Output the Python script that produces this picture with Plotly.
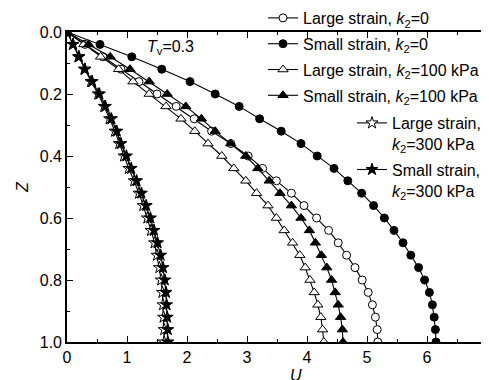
import plotly.graph_objects as go

z = [0.00, 0.04, 0.08, 0.12, 0.16, 0.20, 0.24, 0.28, 0.32, 0.36, 0.40, 0.44, 0.48,
     0.52, 0.56, 0.60, 0.64, 0.68, 0.72, 0.76, 0.80, 0.84, 0.88, 0.92, 0.96, 1.00]

u_large_k0 = [0.00, 0.30, 0.60, 0.90, 1.20, 1.50, 1.82, 2.12, 2.41, 2.73, 3.02, 3.26, 3.49,
              3.74, 3.95, 4.16, 4.36, 4.52, 4.66, 4.80, 4.92, 5.02, 5.09, 5.14, 5.17, 5.18]
u_small_k0 = [0.00, 0.55, 1.08, 1.58, 2.05, 2.47, 2.87, 3.21, 3.57, 3.90, 4.17, 4.45, 4.68,
              4.91, 5.11, 5.29, 5.45, 5.60, 5.73, 5.86, 5.96, 6.04, 6.09, 6.12, 6.14, 6.15]
u_large_k100 = [0.00, 0.28, 0.56, 0.86, 1.10, 1.37, 1.65, 1.90, 2.13, 2.35, 2.58, 2.78, 2.98,
                3.16, 3.35, 3.49, 3.62, 3.76, 3.88, 3.97, 4.05, 4.12, 4.18, 4.23, 4.26, 4.28]
u_small_k100 = [0.00, 0.36, 0.72, 1.05, 1.37, 1.67, 1.98, 2.24, 2.47, 2.73, 2.98, 3.18, 3.37,
                3.55, 3.74, 3.90, 4.04, 4.14, 4.24, 4.33, 4.41, 4.47, 4.52, 4.56, 4.59, 4.60]
u_large_k300 = [0.00, 0.10, 0.19, 0.29, 0.40, 0.52, 0.62, 0.71, 0.80, 0.87, 0.95, 1.03, 1.12,
                1.20, 1.27, 1.34, 1.40, 1.46, 1.50, 1.54, 1.57, 1.59, 1.60, 1.61, 1.62, 1.62]
u_small_k300 = [0.00, 0.10, 0.20, 0.30, 0.42, 0.54, 0.64, 0.74, 0.83, 0.90, 0.99, 1.07, 1.16,
                1.24, 1.32, 1.39, 1.45, 1.51, 1.56, 1.60, 1.63, 1.65, 1.66, 1.67, 1.68, 1.68]

names = [
    "Large strain, <i>k</i><sub>2</sub>=0",
    "Small strain, <i>k</i><sub>2</sub>=0",
    "Large strain, <i>k</i><sub>2</sub>=100 kPa",
    "Small strain, <i>k</i><sub>2</sub>=100 kPa",
    "Large strain,<br><i>k</i><sub>2</sub>=300 kPa",
    "Small strain,<br><i>k</i><sub>2</sub>=300 kPa",
]

FONT = "Liberation Sans, Arial, sans-serif"
series = [
    (u_large_k0, names[0], "circle", "white", 8, "legend"),
    (u_small_k0, names[1], "circle", "black", 8, "legend"),
    (u_large_k100, names[2], "triangle-up", "white", 9, "legend"),
    (u_small_k100, names[3], "triangle-up", "black", 9, "legend"),
    (u_large_k300, names[4], "star", "white", 9, "legend2"),
    (u_small_k300, names[5], "star", "black", 9, "legend2"),
]

fig = go.Figure()
for i, (u, name, sym, fill, size, lg) in enumerate(series):
    fig.add_trace(go.Scatter(
        x=u, y=z, mode="lines+markers", name=name, legend=lg,
        legendgroup="g%d" % i,
        line=dict(color="black", width=1.1),
        marker=dict(symbol=sym, size=size, color=fill,
                    line=dict(color="black", width=1)),
    ))

axis_common = dict(
    showline=True, linecolor="black", linewidth=1.6, mirror="allticks",
    ticks="inside", ticklen=6, tickwidth=1.4, tickcolor="black",
    showgrid=False, zeroline=False, ticklabeloverflow="allow",
    tickfont=dict(family=FONT, size=16, color="black"),
)

fig.update_xaxes(range=[0, 7], dtick=1, tick0=0,
                 minor=dict(dtick=0.5, ticks="inside", ticklen=3.5, tickwidth=1.2, tickcolor="black"),
                 **axis_common)
fig.update_yaxes(range=[1, 0], dtick=0.2, tick0=0, tickformat=".1f",
                 minor=dict(dtick=0.1, ticks="inside", ticklen=3.5, tickwidth=1.2, tickcolor="black"),
                 **axis_common)

# page has an 8px body margin: figure is 481x372 so the plot area lands at 67..487 x 32..342
fig.update_layout(
    width=481, height=372,
    margin=dict(l=59, r=2, t=24, b=38, autoexpand=False),
    paper_bgcolor="white", plot_bgcolor="white",
    font=dict(family=FONT, size=16, color="black"),
    legend=dict(x=196 / 420, y=1 + 31 / 310, xanchor="left", yanchor="top",
                bgcolor="rgba(0,0,0,0)", borderwidth=0, tracegroupgap=2,
                font=dict(family=FONT, size=16, color="black"), itemwidth=30),
    legend2=dict(x=285 / 420, y=1 - 74 / 310, xanchor="left", yanchor="top",
                 bgcolor="rgba(0,0,0,0)", borderwidth=0, tracegroupgap=2, valign="top",
                 font=dict(family=FONT, size=16, color="black"), itemwidth=30),
    annotations=[
        dict(text="<i>T</i><sub>v</sub>=0.3", x=1.3, y=0.05, xref="x", yref="y",
             xanchor="left", yanchor="middle", showarrow=False,
             font=dict(family=FONT, size=16, color="black")),
        dict(text="<i>Z</i>", x=-45 / 420, y=0.5, xref="paper", yref="paper",
             textangle=-90, xanchor="center", yanchor="middle", showarrow=False,
             font=dict(family=FONT, size=16, color="black")),
        dict(text="<i>U</i>", x=229 / 420, y=-23 / 310, xref="paper", yref="paper",
             xanchor="center", yanchor="top", showarrow=False,
             font=dict(family=FONT, size=16, color="black")),
    ],
)

fig.write_html("out.html")
